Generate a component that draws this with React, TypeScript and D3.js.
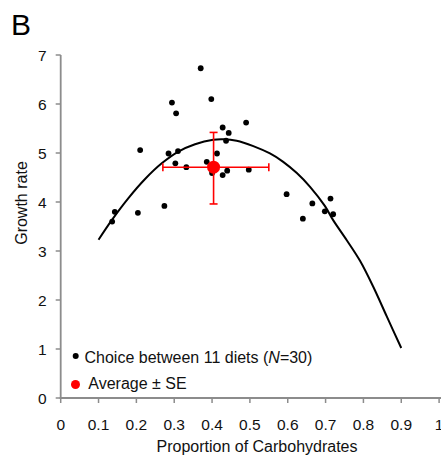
import React from "react";
import * as d3 from "d3";

const xTicks = [0, 0.1, 0.2, 0.3, 0.4, 0.5, 0.6, 0.7, 0.8, 0.9, 1];
const yTicks = [0, 1, 2, 3, 4, 5, 6, 7];

const pointX = [0.370, 0.294, 0.305, 0.398, 0.428, 0.444, 0.490, 0.437, 0.210, 0.285, 0.310, 0.413, 0.303, 0.332, 0.386, 0.400, 0.428, 0.440, 0.497, 0.274, 0.204, 0.143, 0.136, 0.597, 0.640, 0.665, 0.698, 0.713, 0.720, 0.405];
const pointY = [6.73, 6.03, 5.81, 6.10, 5.52, 5.41, 5.62, 5.25, 5.06, 4.99, 5.04, 4.99, 4.79, 4.71, 4.82, 4.59, 4.55, 4.64, 4.66, 3.92, 3.78, 3.80, 3.60, 4.16, 3.66, 3.97, 3.81, 4.07, 3.75, 4.68];

const curveX = [0.10, 0.135, 0.179, 0.223, 0.267, 0.311, 0.355, 0.403, 0.430, 0.465, 0.509, 0.553, 0.588, 0.624, 0.659, 0.698, 0.720, 0.756, 0.791, 0.826, 0.862, 0.90];
const curveY = [3.23, 3.63, 4.08, 4.47, 4.79, 5.03, 5.18, 5.27, 5.28, 5.25, 5.14, 4.99, 4.82, 4.59, 4.31, 3.92, 3.63, 3.22, 2.80, 2.27, 1.66, 1.02];

const avgX = 0.404;
const avgY = 4.71;
const seXLow = 0.270;
const seXHigh = 0.550;
const seYLow = 3.96;
const seYHigh = 5.42;

const legendLabels = ["Choice between 11 diets (", "N", "=30)"];
const legendAvg = "Average ± SE";

export default function App() {
  const W = 441, H = 457;
  const x = d3.scaleLinear().domain([0, 1]).range([60.7, 439.1]);
  const y = d3.scaleLinear().domain([0, 7]).range([398, 55]);
  const font = "'Liberation Sans', Arial, sans-serif";
  const axisColor = "#8c8c8c";
  const line = d3
    .line<number>()
    .x((_, i) => x(curveX[i]))
    .y((d) => y(d))
    .curve(d3.curveCatmullRom.alpha(0.5));
  const red = "#ff0000";
  return (
    <svg
      width={W}
      height={H}
      style={{ position: "absolute", left: 0, top: 0 }}
      fontFamily={font}
    >
      <rect width={W} height={H} fill="#fff" />
      <text x={11} y={35} fontSize={30} fill="#000">B</text>
      {/* axes */}
      <line x1={x(0)} x2={x(0)} y1={y(7)} y2={y(0) + 1} stroke={axisColor} strokeWidth={1.8} />
      <line x1={x(0) - 1} x2={x(1) + 2} y1={y(0)} y2={y(0)} stroke={axisColor} strokeWidth={1.8} />
      {yTicks.map((t) => (
        <g key={"y" + t}>
          <line x1={x(0) - 5} x2={x(0)} y1={y(t)} y2={y(t)} stroke={axisColor} strokeWidth={1.5} />
          <text x={x(0) - 14} y={y(t) + 5.5} fontSize={15.5} textAnchor="end" fill="#111">{t}</text>
        </g>
      ))}
      {xTicks.map((t) => (
        <g key={"x" + t}>
          <line x1={x(t)} x2={x(t)} y1={y(0)} y2={y(0) + 5} stroke={axisColor} strokeWidth={1.5} />
          <text x={x(t)} y={429.5} fontSize={15.5} textAnchor="middle" fill="#111">{t}</text>
        </g>
      ))}
      <text x={257} y={451.5} fontSize={16} textAnchor="middle" fill="#111">Proportion of Carbohydrates</text>
      <text transform="translate(26.5,203) rotate(-90)" fontSize={16} textAnchor="middle" fill="#111">Growth rate</text>
      {/* curve */}
      <path d={line(curveY) || ""} fill="none" stroke="#000" strokeWidth={2} />
      {/* points */}
      {pointX.map((px, i) => (
        <circle key={"p" + i} cx={x(px)} cy={y(pointY[i])} r={2.9} fill="#000" />
      ))}
      {/* average with SE */}
      <g stroke={red} strokeWidth={1.6}>
        <line x1={x(seXLow)} x2={x(seXHigh)} y1={y(avgY)} y2={y(avgY)} />
        <line x1={x(avgX)} x2={x(avgX)} y1={y(seYLow)} y2={y(seYHigh)} />
        <line x1={x(avgX) - 4} x2={x(avgX) + 4} y1={y(seYLow)} y2={y(seYLow)} />
        <line x1={x(avgX) - 4} x2={x(avgX) + 4} y1={y(seYHigh)} y2={y(seYHigh)} />
        <line x1={x(seXLow)} x2={x(seXLow)} y1={y(avgY) - 4} y2={y(avgY) + 4} />
        <line x1={x(seXHigh)} x2={x(seXHigh)} y1={y(avgY) - 4} y2={y(avgY) + 4} />
      </g>
      <circle cx={x(avgX)} cy={y(avgY)} r={6.5} fill={red} />
      {/* legend */}
      <circle cx={75.7} cy={356} r={3} fill="#000" />
      <text x={84.5} y={362.7} fontSize={16} fill="#111">
        {legendLabels[0]}
        <tspan fontStyle="italic">{legendLabels[1]}</tspan>
        {legendLabels[2]}
      </text>
      <circle cx={75.5} cy={384.5} r={4.5} fill={red} />
      <text x={88.3} y={388.5} fontSize={16} fill="#111">{legendAvg}</text>
    </svg>
  );
}
